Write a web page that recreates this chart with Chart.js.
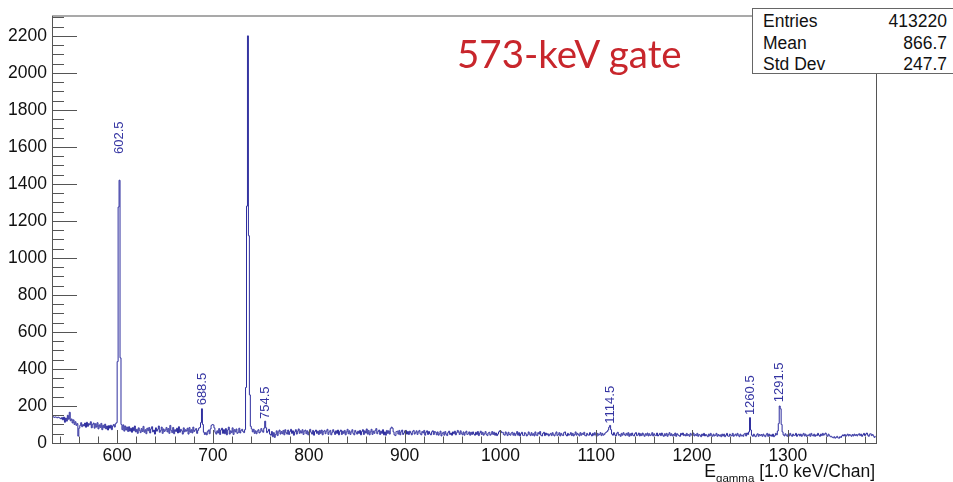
<!DOCTYPE html>
<html>
<head>
<meta charset="utf-8">
<title>573-keV gate</title>
<script src="https://cdn.jsdelivr.net/npm/chart.js@4.4.0/dist/chart.umd.min.js"></script>
<style>
  body { margin: 0; background: #fff; width: 953px; height: 482px; overflow: hidden; position: relative; font-family: 'Liberation Sans', Arial, sans-serif; }
  #spectrum { position: absolute; left: 0; top: 0; }
  #gate { position: absolute; left: 457px; top: 33px; font-family: Lato, 'Open Sans', sans-serif; font-size: 38.5px; line-height: 40px; color: #c8262c; white-space: nowrap; }
  #stats { position: absolute; left: 752px; top: 8px; width: 220px; height: 64px; border: 1px solid #666; background: #fff; }
  .row { position: absolute; left: 10px; width: 184px; font-size: 17.5px; line-height: 20px; color: #111; }
  .row span { position: absolute; right: 0; top: 0; }
  #xtitle { position: absolute; right: 78px; top: 461px; font-size: 17.5px; line-height: 20px; color: #111; white-space: nowrap; }
  #xtitle sub { font-size: 11.5px; vertical-align: -5px; line-height: 0; }
</style>
</head>
<body>
<canvas id="spectrum" width="953" height="482"></canvas>
<div id="gate">573-keV gate</div>
<div id="stats">
  <div class="row" style="top:2px">Entries<span>413220</span></div>
  <div class="row" style="top:23.5px">Mean<span>866.7</span></div>
  <div class="row" style="top:44.5px">Std Dev<span>247.7</span></div>
</div>
<div id="xtitle">E<sub>gamma</sub> [1.0 keV/Chan]</div>
<script>
// spectrum gated on 573 keV, 1 keV per channel
const firstEdge = 532;
const lastEdge = 1392;
const keVPerChan = 1.0;

const counts = [
  140,142,138,141,139,136,140,137,134,130,138,125,140,112,135,118,150,128,166,120, // 532
  130,108,125,100,115,95,105,37,80,95,110,88,100,92,108,85,112,90,105,98,
  115,82,100,108,80,104,86,110,76,98,84,106,72,96,82,102,76,92,70,94,
  80,96,72,92,100,86,104,110,440,1275,1420,460,100,72,98,64,92,70,86,62, // 592
  88,64,80,58,84,66,92,60,74,52,82,68,56,78,62,90,58,72,50,80,
  66,84,54,76,88,60,70,48,82,64,74,92,58,68,86,52,76,62,70,84,
  60,78,52,95,68,56,84,50,72,62,80,54,88,58,74,66,48,82,60,72,
  64,80,48,84,58,72,54,86,62,70,78,52,68,80,84,110,185,100,58,46, // 672
  56,44,62,70,50,76,95,100,98,82,58,48,66,54,78,46,70,80,52,72,
  50,78,44,70,86,48,66,56,82,46,72,60,76,52,58,80,54,68,74,62,
  56,72,300,1280,2200,1120,260,90,76,60,74,52,66,50,64,72,54,60,78,66, // 732
  58,80,118,82,56,64,74,48,42,62,34,56,30,46,66,40,60,70,48,62,
  50,68,44,72,56,48,70,46,62,74,52,66,42,60,72,48,64,76,52,66,
  54,72,46,64,70,50,66,44,60,74,58,48,68,42,62,70,52,64,46,68,
  52,70,44,62,68,50,64,74,46,60,68,44,56,72,60,46,66,52,70,44,
  62,70,46,64,52,68,44,60,74,50,66,46,60,72,52,44,68,58,48,64,
  52,68,44,62,72,46,66,54,76,48,68,44,60,74,46,64,52,68,78,50,
  62,70,46,64,52,72,44,60,42,68,52,66,48,78,86,80,60,44,40,62, // 872
  64,48,68,44,60,70,46,54,66,68,48,62,46,64,54,44,62,68,48,56,
  66,46,60,68,50,44,62,54,68,42,58,66,46,62,50,44,60,66,46,62,
  58,44,60,42,50,64,38,52,58,42,62,48,40,56,64,46,54,42,60,50,
  64,44,56,68,58,46,66,52,44,60,42,56,64,46,50,60,42,58,46,60,
  48,42,58,46,62,40,54,64,46,58,42,50,62,46,40,54,58,42,48,62,
  46,58,42,54,40,48,60,66,64,56,58,46,42,60,50,40,58,46,42,54, // 992
  58,42,54,40,50,62,42,56,38,50,58,42,40,56,50,38,44,60,48,40,
  56,42,50,38,60,44,40,56,48,62,42,38,52,58,40,54,44,50,38,46,
  52,40,56,44,38,50,60,40,46,56,38,52,44,40,56,60,44,38,52,42,
  46,56,40,52,38,46,60,42,52,46,38,56,42,52,46,58,40,38,52,44,
  42,56,46,38,52,42,56,44,36,52,42,46,56,40,52,42,46,54,58,62,
  70,85,95,72,48,42,56,44,38,52,58,42,46,36,52,42,56,46,40,52, // 1112
  42,56,36,50,40,54,42,38,50,56,40,44,54,38,50,40,54,44,36,50,
  42,54,38,50,40,44,56,38,50,42,40,54,38,44,52,40,54,42,36,50,
  40,52,36,46,56,40,50,38,46,40,54,36,50,44,40,36,52,44,54,40,
  46,38,52,40,46,36,52,44,40,54,38,46,40,52,36,46,42,34,48,40,
  52,38,46,40,34,48,38,52,42,36,48,38,42,52,36,46,38,44,34,48,
  38,48,34,42,52,38,36,48,42,38,52,36,42,48,38,52,42,34,48,38,
  42,36,48,52,38,54,46,60,137,70,42,36,48,38,34,44,50,36,46,40, // 1252
  46,36,48,40,34,44,52,36,48,38,44,36,48,34,40,52,44,65,105,200,
  185,100,60,44,38,50,42,36,48,38,52,42,36,48,40,42,52,36,44,48, // 1292
  38,48,36,44,52,38,48,36,42,40,48,36,52,42,38,48,36,44,40,52,
  42,36,48,40,52,42,48,54,42,36,48,40,34,36,30,28,34,26,30,36,
  28,26,34,30,38,44,38,46,36,42,48,38,46,42,36,46,38,48,40,46,
  38,46,50,40,48,36,44,52,40,48,54,42,36,48,50,40,46,38,30,36  // 1372
];

const xTickValues = [600, 700, 800, 900, 1000, 1100, 1200, 1300];
const yTickValues = [0, 200, 400, 600, 800, 1000, 1200, 1400, 1600, 1800, 2000, 2200];
const yMax = 2310;

const peakEnergies = [602.5, 688.5, 754.5, 1114.5, 1260.5, 1291.5];
const peakLabels = ['602.5', '688.5', '754.5', '1114.5', '1260.5', '1291.5'];

const lineColor = '#2d2d9e';

const points = counts.map((c, i) => ({ x: firstEdge + (i + 0.5) * keVPerChan, y: c }));

// ROOT-like frame with inward ticks
const rootFrame = {
  id: 'rootFrame',
  afterDraw(chart) {
    const { ctx, chartArea: a, scales: { x, y } } = chart;
    ctx.save();
    ctx.strokeStyle = '#555';
    ctx.lineWidth = 1;
    ctx.strokeRect(a.left + 0.5, a.top + 0.5, a.right - a.left, a.bottom - a.top);
    ctx.beginPath();
    for (let v = 0; v <= yMax; v += 50) {
      const py = Math.round(y.getPixelForValue(v)) + 0.5;
      const len = v % 200 === 0 ? 25 : 12;
      ctx.moveTo(a.left, py);
      ctx.lineTo(a.left + len, py);
    }
    for (let v = 540; v <= lastEdge; v += 20) {
      const px = Math.round(x.getPixelForValue(v)) + 0.5;
      const len = v % 100 === 0 ? 13 : 6.5;
      ctx.moveTo(px, a.bottom);
      ctx.lineTo(px, a.bottom - len);
    }
    ctx.stroke();
    ctx.restore();
  }
};

// rotated peak energy markers, placed at 1.1 x peak height
const peakMarks = {
  id: 'peakMarks',
  afterDatasetsDraw(chart) {
    const { ctx, scales: { x, y } } = chart;
    ctx.save();
    ctx.font = '13px "Liberation Sans", Arial, sans-serif';
    ctx.fillStyle = '#3535a2';
    ctx.textAlign = 'left';
    ctx.textBaseline = 'middle';
    peakEnergies.forEach((e, k) => {
      const h = counts[Math.floor((e - firstEdge) / keVPerChan)];
      ctx.save();
      ctx.translate(x.getPixelForValue(e), y.getPixelForValue(h * 1.1));
      ctx.rotate(-Math.PI / 2);
      ctx.fillText(peakLabels[k], 0, 0);
      ctx.restore();
    });
    ctx.restore();
  }
};

Chart.defaults.font.family = "'Liberation Sans', Arial, sans-serif";

const ctx = document.getElementById('spectrum').getContext('2d');
const chart = new Chart(ctx, {
  type: 'line',
  data: {
    datasets: [{
      label: 'counts',
      data: points,
      stepped: 'middle',
      borderColor: lineColor,
      borderWidth: 1,
      pointRadius: 0,
      fill: false
    }]
  },
  options: {
    responsive: false,
    animation: false,
    devicePixelRatio: 1,
    layout: { padding: { top: 6, right: 77, left: 0, bottom: 0 } },
    plugins: { legend: { display: false }, tooltip: { enabled: false } },
    scales: {
      x: {
        type: 'linear',
        min: firstEdge,
        max: lastEdge,
        afterFit: s => { s.height = 39; },
        afterBuildTicks: s => { s.ticks = xTickValues.map(v => ({ value: v })); },
        grid: { display: false, drawTicks: false },
        border: { display: false },
        ticks: { padding: 3, color: '#111', font: { size: 17.5 }, maxRotation: 0, autoSkip: false, callback: v => String(v) }
      },
      y: {
        min: 0,
        max: yMax,
        afterFit: s => { s.width = 52; },
        afterBuildTicks: s => { s.ticks = yTickValues.map(v => ({ value: v })); },
        grid: { display: false, drawTicks: false },
        border: { display: false },
        ticks: { padding: 5, color: '#111', font: { size: 17.5 }, autoSkip: false, callback: v => String(v) }
      }
    }
  },
  plugins: [rootFrame, peakMarks]
});
</script>
</body>
</html>
